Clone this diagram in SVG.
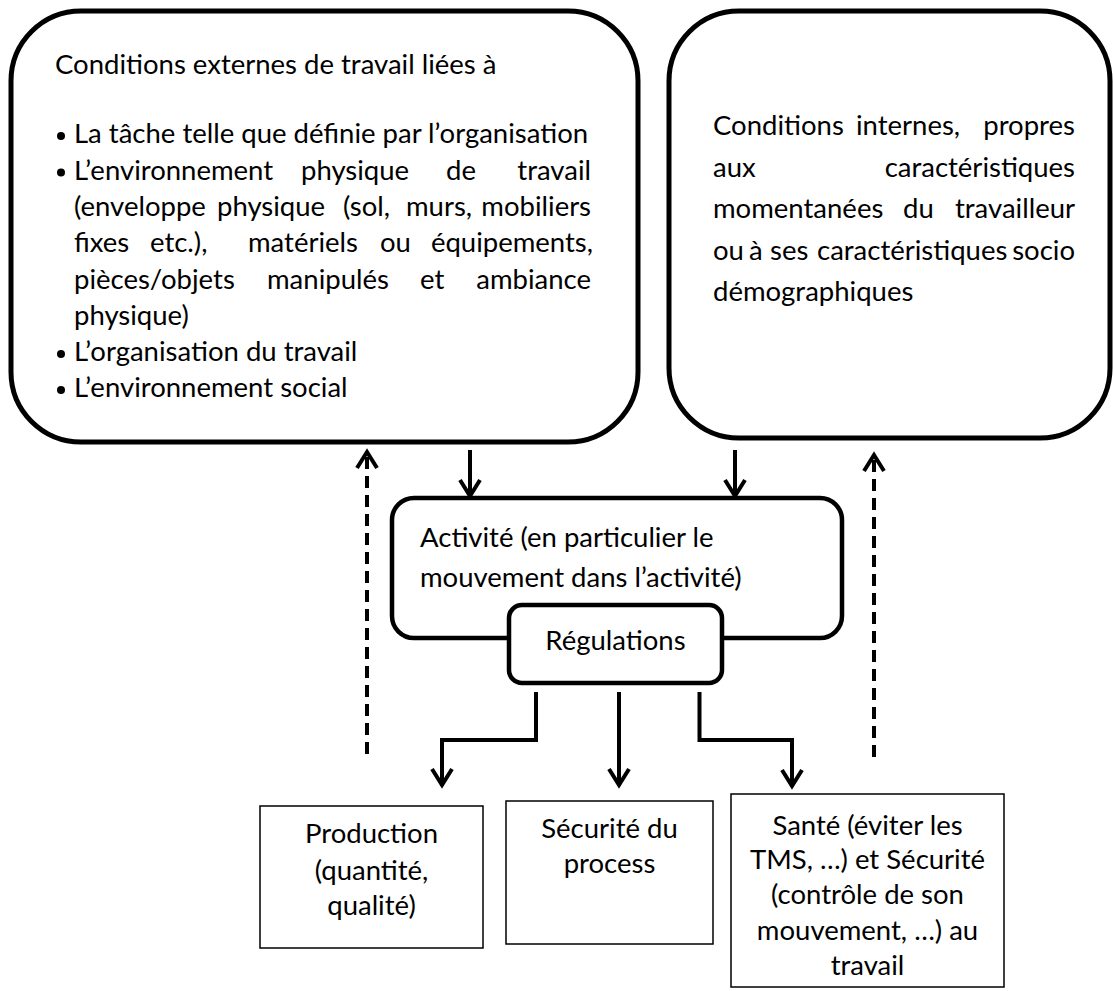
<svg xmlns="http://www.w3.org/2000/svg" width="1113" height="991" viewBox="0 0 1113 991">
<style>
  text { font-family: Lato, "Liberation Sans", sans-serif; font-size: 27.5px; fill: #000; }
  .c { text-anchor: middle; }
  .e { text-anchor: end; }
  .big { fill: #fff; stroke: #000; stroke-width: 5; }
  .mid { fill: #fff; stroke: #000; stroke-width: 4.5; }
  .thin { fill: #fff; stroke: #000; stroke-width: 1.5; }
  .arr { fill: none; stroke: #000; stroke-width: 4; }
  .dash { fill: none; stroke: #000; stroke-width: 4; stroke-dasharray: 12 7; }
</style>
<defs>
  <marker id="head" markerUnits="userSpaceOnUse" viewBox="-22 -14 26 28" refX="0" refY="0" markerWidth="26" markerHeight="28" orient="auto">
    <path d="M-17,-10 L-1,0 L-17,10" fill="none" stroke="#000" stroke-width="4" stroke-linecap="butt" stroke-linejoin="miter"/>
  </marker>
</defs>
<rect width="1113" height="991" fill="#fff"/>

<g id="externes">
  <rect class="big" x="11" y="11" width="627" height="431" rx="70" ry="70"/>
  <text x="55" y="74">Conditions externes de travail liées à</text>
  <circle cx="61" cy="136" r="4"/>
  <text x="74" y="143">La tâche telle que définie par l’organisation</text>
  <circle cx="61" cy="172.5" r="4"/>
  <text y="179.5"><tspan x="74">L’environnement</tspan><tspan x="301">physique</tspan><tspan x="446">de</tspan><tspan x="591" class="e">travail</tspan></text>
  <text y="216"><tspan x="74">(enveloppe</tspan><tspan x="217">physique</tspan><tspan x="343">(sol,</tspan><tspan x="406">murs,</tspan><tspan x="591" class="e">mobiliers</tspan></text>
  <text y="252"><tspan x="74">fixes</tspan><tspan x="150">etc.),</tspan><tspan x="248">matériels</tspan><tspan x="380">ou</tspan><tspan x="593" class="e">équipements,</tspan></text>
  <text y="288.5"><tspan x="74">pièces/objets</tspan><tspan x="267">manipulés</tspan><tspan x="420">et</tspan><tspan x="591" class="e">ambiance</tspan></text>
  <text x="74" y="325">physique)</text>
  <circle cx="61" cy="354" r="4"/>
  <text x="74" y="361">L’organisation du travail</text>
  <circle cx="61" cy="390" r="4"/>
  <text x="74" y="397">L’environnement social</text>
</g>

<g id="internes">
  <rect class="big" x="669" y="11" width="441" height="427" rx="70" ry="70"/>
  <text y="135"><tspan x="713">Conditions</tspan><tspan x="856">internes,</tspan><tspan x="1075" class="e">propres</tspan></text>
  <text y="177"><tspan x="713">aux</tspan><tspan x="1075" class="e">caractéristiques</tspan></text>
  <text y="218"><tspan x="713">momentanées</tspan><tspan x="903">du</tspan><tspan x="1075" class="e">travailleur</tspan></text>
  <text y="260"><tspan x="713">ou</tspan><tspan x="749">à</tspan><tspan x="770">ses</tspan><tspan x="817">caractéristiques</tspan><tspan x="1075" class="e">socio</tspan></text>
  <text x="713" y="301">démographiques</text>
</g>

<g id="activite">
  <rect class="mid" x="392" y="498" width="450" height="140" rx="22" ry="22"/>
  <text x="420" y="547">Activité (en particulier le</text>
  <text x="420" y="587">mouvement dans l’activité)</text>
</g>

<g id="regulations">
  <rect class="mid" x="509" y="605" width="213" height="78" rx="13" ry="13"/>
  <text class="c" x="615.5" y="650">Régulations</text>
</g>

<g id="production">
  <rect class="thin" x="260" y="806" width="223" height="142"/>
  <text class="c" x="371.5" y="843">Production</text>
  <text class="c" x="371.5" y="880">(quantité,</text>
  <text class="c" x="371.5" y="915">qualité)</text>
</g>

<g id="securite">
  <rect class="thin" x="506" y="801" width="207" height="143"/>
  <text class="c" x="609.5" y="838">Sécurité du</text>
  <text class="c" x="609.5" y="873">process</text>
</g>

<g id="sante">
  <rect class="thin" x="731" y="794" width="273" height="193"/>
  <text class="c" x="867.5" y="835">Santé (éviter les</text>
  <text class="c" x="867.5" y="869">TMS, …) et Sécurité</text>
  <text class="c" x="867.5" y="904">(contrôle de son</text>
  <text class="c" x="867.5" y="940">mouvement, …) au</text>
  <text class="c" x="867.5" y="975">travail</text>
</g>

<g id="connectors">
  <path class="arr" d="M470,450 V497" marker-end="url(#head)"/>
  <path class="arr" d="M735,450 V497" marker-end="url(#head)"/>
  <path class="arr" d="M536,692 V740 H442 V786" marker-end="url(#head)"/>
  <path class="arr" d="M619,692 V786" marker-end="url(#head)"/>
  <path class="arr" d="M699.5,692 V740 H792 V787" marker-end="url(#head)"/>
  <path class="dash" d="M367,754 V451" marker-end="url(#head)"/>
  <path class="dash" d="M874,757 V454" marker-end="url(#head)"/>
</g>
</svg>
